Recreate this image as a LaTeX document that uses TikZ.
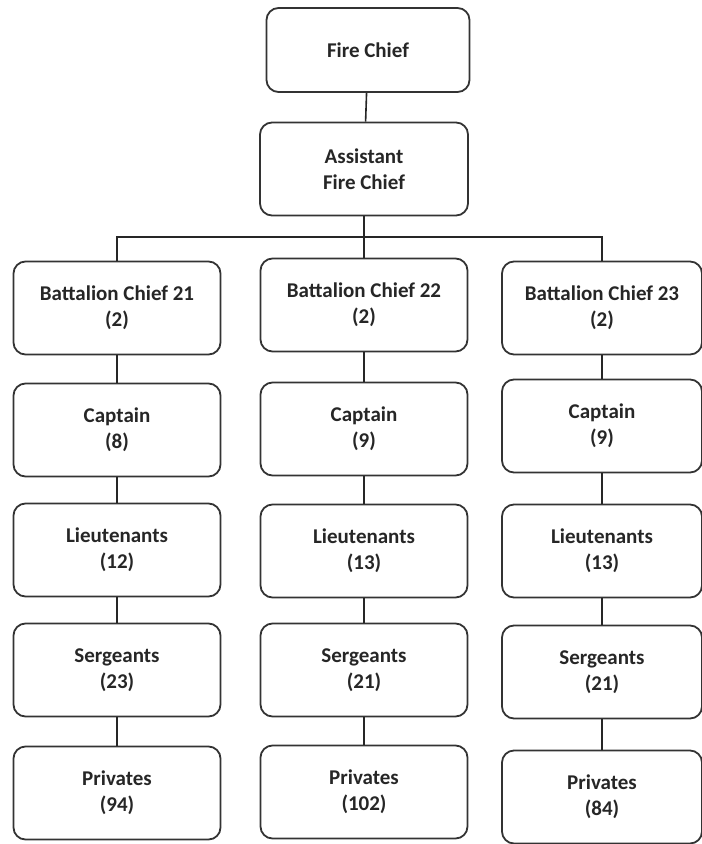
\documentclass[tikz,border=0pt]{standalone}
\usepackage{fontspec}
\setmainfont{Carlito}
\usetikzlibrary{positioning}

% boxes of the chart
\tikzset{
    post/.style={draw=black!80, line width=0.9pt, rounded corners=6pt,
        align=center, inner sep=0pt, text=black!85,
        font=\bfseries\fontsize{10.5}{13}\selectfont,
        minimum height=46.5pt},
    colA/.style={post, minimum width=103.5pt},
    colB/.style={post, minimum width=103.5pt},
    colC/.style={post, minimum width=100pt},
}

\begin{document}
\begin{tikzpicture}[x=0.5pt, y=-0.5pt]

    \useasboundingbox (0,0) rectangle (701,844);

    % top of the chart
    \node[post, minimum width=101.5pt, minimum height=42pt] (fc) at (368,50)
    {Fire Chief};
    \node[post, minimum width=104pt] (afc) at (364,169)
    {Assistant\\Fire Chief};
    \coordinate (bar) at (364,237);

    % first column
    \node[colA] (bc1) at (117,308) {Battalion Chief 21\\(2)};
    \node[colA] (cap1) at (117,430) {Captain\\(8)};
    \node[colA] (lt1) at (117,550) {Lieutenants\\(12)};
    \node[colA] (sg1) at (117,670) {Sergeants\\(23)};
    \node[colA] (pv1) at (117,793) {Privates\\(94)};

    % second column
    \node[colB] (bc2) at (364,305) {Battalion Chief 22\\(2)};
    \node[colB] (cap2) at (364,429) {Captain\\(9)};
    \node[colB] (lt2) at (364,551) {Lieutenants\\(13)};
    \node[colB] (sg2) at (364,670) {Sergeants\\(21)};
    \node[colB] (pv2) at (364,792) {Privates\\(102)};

    % third column
    \node[colC] (bc3) at (602,308) {Battalion Chief 23\\(2)};
    \node[colC] (cap3) at (602,426) {Captain\\(9)};
    \node[colC] (lt3) at (602,551) {Lieutenants\\(13)};
    \node[colC] (sg3) at (602,672) {Sergeants\\(21)};
    \node[colC] (pv3) at (602,797) {Privates\\(84)};

    \begin{scope}[draw=black!85, line width=0.8pt]
        \draw (fc) -- (afc);
        \draw (afc) -- (bar);
        \draw (bc1.north) |- (bar) -| (bc3.north);
        \draw (bar) -- (bc2);
        \draw (bc1) -- (cap1);
        \draw (cap1) -- (lt1);
        \draw (lt1) -- (sg1);
        \draw (sg1) -- (pv1);
        \draw (bc2) -- (cap2);
        \draw (cap2) -- (lt2);
        \draw (lt2) -- (sg2);
        \draw (sg2) -- (pv2);
        \draw (bc3) -- (cap3);
        \draw (cap3) -- (lt3);
        \draw (lt3) -- (sg3);
        \draw (sg3) -- (pv3);
    \end{scope}

\end{tikzpicture}
\end{document}
